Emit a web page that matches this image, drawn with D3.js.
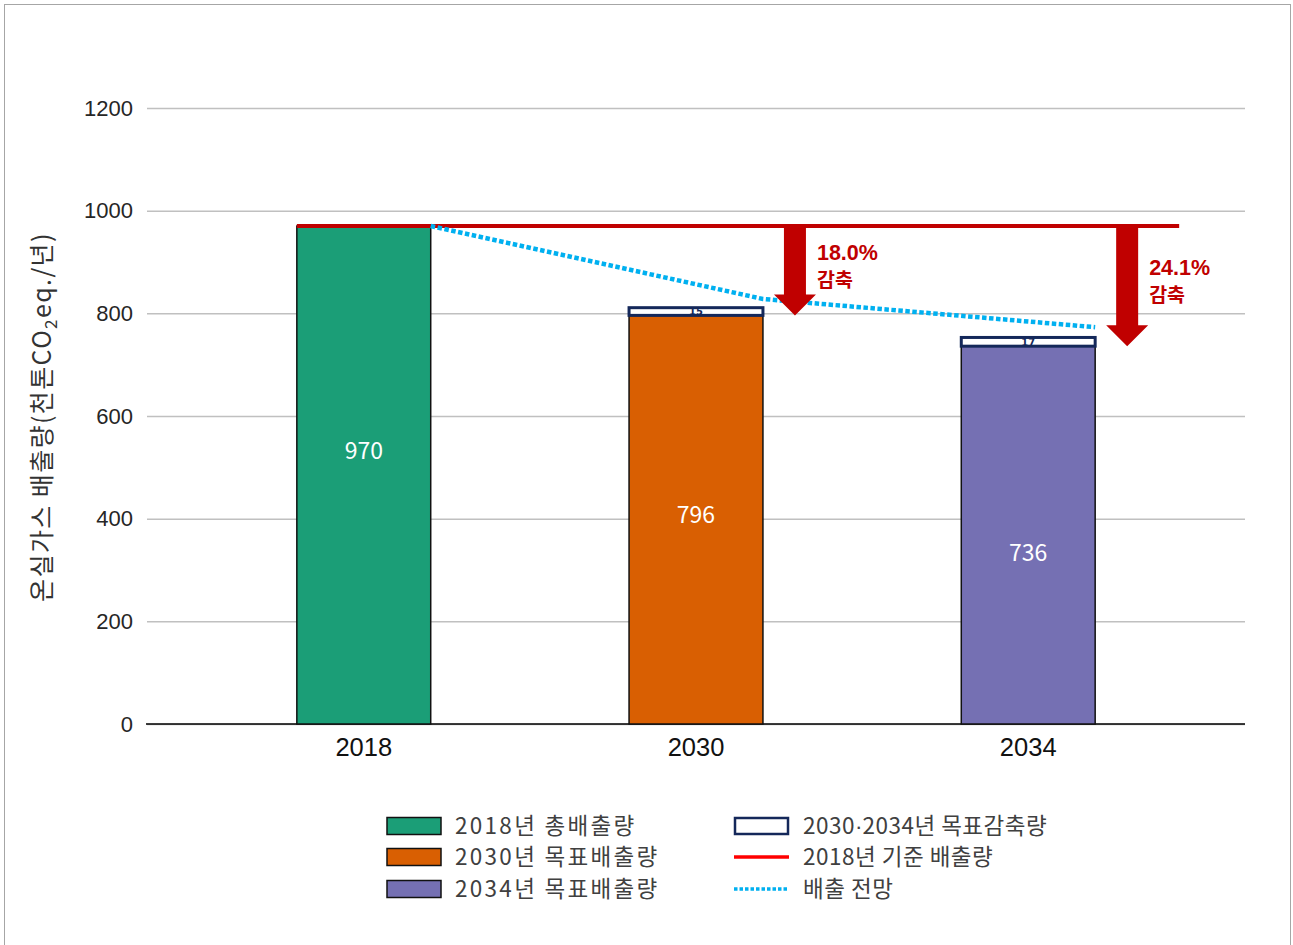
<!DOCTYPE html>
<html>
<head>
<meta charset="utf-8">
<script src="https://cdn.jsdelivr.net/npm/d3@7/dist/d3.min.js"></script>
<style>
  html, body { margin: 0; padding: 0; background: #fff; }
  svg { display: block; }
</style>
</head>
<body>
<svg id="chart" width="1293" height="945"></svg>
<script>
// Greenhouse-gas emissions: 2018 total, 2030/2034 targets and reductions
const years = ["2018", "2030", "2034"];
const emissions = [970, 796, 736];          // bar values (천톤CO2eq./년)
const reductionYears = ["2030", "2034"];
const reductions = [15, 17];                // 목표감축량 stacked on the target bars
const projection = [970, 828, 773];         // 배출 전망 at each year
const baseline = 970;                       // 2018년 기준 배출량
const cutLabels = ["18.0%", "24.1%"];
const yTicks = [0, 200, 400, 600, 800, 1000, 1200];
const barColors = ["#1b9e77", "#d95f02", "#7570b3"];
const legendLeft = ["2018년 총배출량", "2030년 목표배출량", "2034년 목표배출량"];
const legendRight = [["2030", "·", "2034년 목표감축량"], ["2018년 기준 배출량"], ["배출 전망"]];

const svg = d3.select("#chart");
const KR = "'Noto Sans CJK KR', 'Noto Sans', sans-serif";
const LAT = "'Liberation Sans', Arial, sans-serif";

// outer frame
svg.append("rect").attr("x", 4.5).attr("y", 4.5).attr("width", 1286).attr("height", 960)
  .attr("fill", "none").attr("stroke", "#a6a6a6").attr("stroke-width", 1);

const left = 147, right = 1245;
const y = d3.scaleLinear().domain([0, 1200]).range([724, 108]);
const x = d3.scaleBand().domain(years).range([left, right])
  .paddingInner(0.597).paddingOuter(0.451);
const bw = x.bandwidth();

// gridlines + y axis
const yAxis = d3.axisLeft(y).tickValues(yTicks).tickFormat(d3.format("d"))
  .tickSize(-(right - left)).tickPadding(14);
const gy = svg.append("g").attr("transform", `translate(${left},0)`).call(yAxis);
gy.select(".domain").remove();
gy.selectAll(".tick line").attr("stroke", "#c0c0c0").attr("stroke-width", 1.5);
gy.selectAll(".tick text").attr("font-family", LAT).attr("font-size", 22)
  .attr("fill", "#262626");

// x axis baseline + labels
const xAxis = d3.axisBottom(x).tickSize(0).tickPadding(14);
const gx = svg.append("g").attr("transform", `translate(0,${y(0)})`).call(xAxis);
gx.select(".domain").attr("d", `M${left - 1},0H${right}`).attr("stroke", "#000").attr("stroke-width", 1.5);
gx.selectAll(".tick text").attr("font-family", LAT).attr("font-size", 25.5).attr("fill", "#111");

// y-axis title
svg.append("text")
  .attr("transform", `translate(51,417) rotate(-90)`)
  .attr("text-anchor", "middle")
  .attr("font-family", KR).attr("font-size", 25).attr("letter-spacing", 1.4).attr("fill", "#333")
  .call(t => {
    t.append("tspan").text("온실가스 배출량(천톤CO");
    t.append("tspan").attr("font-size", 17).attr("dy", 6).text("2");
    t.append("tspan").attr("dy", -6).text("eq./년)");
  });

// bars
svg.append("g").selectAll("rect").data(years).join("rect")
  .attr("x", d => x(d))
  .attr("y", (d, i) => y(emissions[i]))
  .attr("width", bw)
  .attr("height", (d, i) => y(0) - y(emissions[i]))
  .attr("fill", (d, i) => barColors[i])
  .attr("stroke", "#111").attr("stroke-width", 1.5);

// bar value labels
const labelShift = [-24, -5, 18];
svg.append("g").selectAll("text").data(years).join("text")
  .attr("x", d => x(d) + bw / 2)
  .attr("y", (d, i) => (y(emissions[i]) + y(0)) / 2 + labelShift[i])
  .attr("dy", "0.35em")
  .attr("text-anchor", "middle")
  .attr("font-family", KR).attr("font-size", 23).attr("fill", "#fff")
  .text((d, i) => emissions[i]);

// reduction boxes on top of target bars
const redG = svg.append("g");
reductionYears.forEach((yr, i) => {
  const base = emissions[years.indexOf(yr)];
  const top = base + reductions[i];
  redG.append("rect")
    .attr("x", x(yr)).attr("y", y(top))
    .attr("width", bw).attr("height", y(base) - y(top))
    .attr("fill", "#fff").attr("stroke", "#14285a").attr("stroke-width", 3);
  redG.append("text")
    .attr("x", x(yr) + bw / 2).attr("y", (y(top) + y(base)) / 2)
    .attr("dy", "0.36em").attr("text-anchor", "middle")
    .attr("font-family", "'DejaVu Sans Condensed', 'DejaVu Sans', sans-serif")
    .attr("font-weight", "bold").attr("font-size", 11).attr("fill", "#14285a")
    .text(reductions[i]);
});

// 2018 baseline (red)
const lastYr = years[years.length - 1];
svg.append("line")
  .attr("x1", x(years[0])).attr("x2", x(lastYr) + bw + 84)
  .attr("y1", y(baseline)).attr("y2", y(baseline))
  .attr("stroke", "#c00000").attr("stroke-width", 4);

// projection (dotted)
const proj = d3.line().x((d, i) => x(years[i]) + bw).y(d => y(d));
svg.append("path").datum(projection)
  .attr("d", proj).attr("fill", "none")
  .attr("stroke", "#00b0f0").attr("stroke-width", 4.5).attr("stroke-dasharray", "4.5,2.5");

// reduction arrows with percentage labels
const arrG = svg.append("g");
reductionYears.forEach((yr, i) => {
  const cx = x(yr) + bw + 32;
  const y0 = y(baseline), y1 = y(emissions[years.indexOf(yr)]);
  const sw = 11, hw = 21, hh = 21;
  arrG.append("path")
    .attr("d", `M${cx - sw},${y0}H${cx + sw}V${y1 - hh}H${cx + hw}L${cx},${y1}L${cx - hw},${y1 - hh}H${cx - sw}Z`)
    .attr("fill", "#c00000");
  const mid = (y0 + y1) / 2 - 4;
  arrG.append("text")
    .attr("x", cx + 22).attr("y", mid - 7)
    .attr("font-family", LAT).attr("font-weight", "bold").attr("font-size", 21.5)
    .attr("fill", "#c00000").text(cutLabels[i]);
  arrG.append("text")
    .attr("x", cx + 22).attr("y", mid + 20)
    .attr("font-family", KR).attr("font-weight", "bold").attr("font-size", 19.5)
    .attr("fill", "#c00000").text("감축");
});

// legend
const lg = svg.append("g").attr("font-family", KR).attr("font-size", 22.5).attr("fill", "#404040");
const rowsY = [826, 857, 889];
legendLeft.forEach((txt, i) => {
  lg.append("rect").attr("x", 387).attr("y", rowsY[i] - 8.5).attr("width", 54).attr("height", 17)
    .attr("fill", barColors[i]).attr("stroke", "#111").attr("stroke-width", 1.5);
  lg.append("text").attr("x", 455).attr("y", rowsY[i]).attr("dy", "0.36em")
    .attr("letter-spacing", 2.3).text(txt);
});
lg.append("rect").attr("x", 735).attr("y", rowsY[0] - 8).attr("width", 53).attr("height", 16)
  .attr("fill", "#fff").attr("stroke", "#14285a").attr("stroke-width", 2.5);
lg.append("line").attr("x1", 734).attr("x2", 789).attr("y1", rowsY[1]).attr("y2", rowsY[1])
  .attr("stroke", "#ff0000").attr("stroke-width", 3.5);
lg.append("line").attr("x1", 734).attr("x2", 789).attr("y1", rowsY[2]).attr("y2", rowsY[2])
  .attr("stroke", "#00b0f0").attr("stroke-width", 3.5).attr("stroke-dasharray", "3.5,2");
legendRight.forEach((parts, i) => {
  const t = lg.append("text").attr("x", 803).attr("y", rowsY[i]).attr("dy", "0.36em")
    .attr("letter-spacing", 0.5);
  parts.forEach(p => {
    const s = t.append("tspan").text(p);
    if (p === "·") s.attr("font-family", LAT).attr("letter-spacing", 0);
  });
});
</script>
</body>
</html>
